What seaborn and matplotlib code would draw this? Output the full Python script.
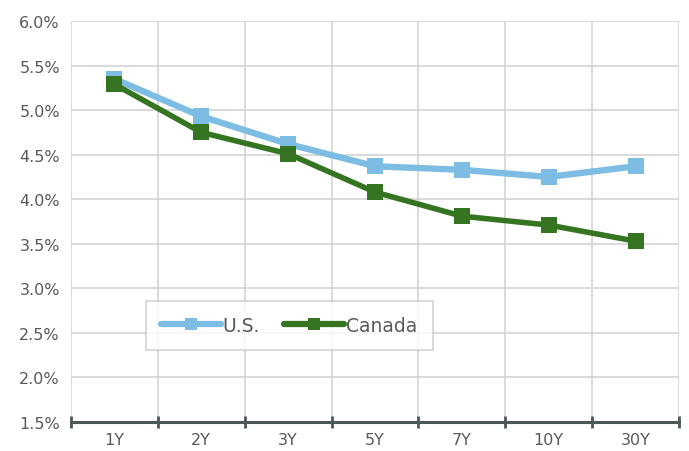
import matplotlib
matplotlib.use("Agg")
import matplotlib.pyplot as plt
from matplotlib.ticker import FixedLocator, FuncFormatter
import seaborn as sns
import pandas as pd

# Yield curve points by tenor
tenors = ["1Y", "2Y", "3Y", "5Y", "7Y", "10Y", "30Y"]
us_yields = [5.35, 4.93, 4.62, 4.37, 4.33, 4.25, 4.37]
canada_yields = [5.29, 4.75, 4.51, 4.08, 3.81, 3.71, 3.53]
series_names = ["U.S.", "Canada"]
series_colors = ["#7dbde3", "#357521"]

df = pd.DataFrame({
    "pos": list(range(len(tenors))) * 2,
    "tenor": tenors * 2,
    "yield": us_yields + canada_yields,
    "series": [series_names[0]] * len(tenors) + [series_names[1]] * len(tenors),
})

sns.set_style("white")
plt.rcParams["font.family"] = ["DejaVu Sans"]
text_color = "#595959"

fig = plt.figure(figsize=(6.89, 4.52), dpi=100)
ax = fig.add_axes([71 / 689, 1 - 423 / 452, (679 - 71) / 689, (423 - 22) / 452])

sns.lineplot(
    data=df, x="pos", y="yield", hue="series", style="series",
    hue_order=series_names, palette=series_colors,
    markers=["s", "s"], dashes=False, linewidth=4.2, markersize=12,
    markeredgewidth=0, ax=ax, legend=False,
)
for line, lw in zip(ax.lines, [4.6, 4.0]):
    line.set_linewidth(lw)

ax.set_xlim(-0.5, len(tenors) - 0.5)
ax.set_ylim(1.5, 6.0)

# category labels at centers, tick marks and grid at boundaries
ax.xaxis.set_major_locator(FixedLocator(range(len(tenors))))
ax.set_xticklabels(tenors)
ax.xaxis.set_minor_locator(FixedLocator([i - 0.5 for i in range(len(tenors) + 1)]))
ax.tick_params(axis="x", which="major", bottom=False, length=0, pad=7,
               labelsize=11.5, labelcolor=text_color)
ax.tick_params(axis="x", which="minor", bottom=True, length=8, width=2,
               direction="inout", color="#4a5858")

ax.yaxis.set_major_locator(FixedLocator([1.5 + 0.5 * i for i in range(10)]))
ax.yaxis.set_major_formatter(FuncFormatter(lambda v, p: f"{v:.1f}%"))
ax.tick_params(axis="y", which="major", length=0, pad=8, labelsize=11.5, labelcolor=text_color)

ax.grid(True, axis="y", which="major", color="#d4d4d4", linewidth=1.2)
ax.grid(True, axis="x", which="minor", color="#d4d4d4", linewidth=1.2)
ax.grid(False, axis="x", which="major")
ax.set_axisbelow(True)

for side in ["top", "right", "left"]:
    ax.spines[side].set_visible(False)
ax.spines["bottom"].set_color("#4a5858")
ax.spines["bottom"].set_linewidth(2.2)
ax.set_xlabel("")
ax.set_ylabel("")

handles = [
    plt.Line2D([], [], color=c, linewidth=4.5, marker="s", markersize=9, markeredgewidth=0)
    for c in series_colors
]
leg = ax.legend(
    handles, series_names, loc="upper left", bbox_to_anchor=(0.123, 0.302),
    borderaxespad=0, ncol=2, frameon=True, fancybox=False, shadow=False,
    handlelength=3.2, handletextpad=0.1, columnspacing=1.3, borderpad=0.8,
    fontsize=13.5, labelcolor=text_color,
)
leg.get_frame().set_edgecolor("#c8c8c8")
leg.get_frame().set_linewidth(1.2)

fig.savefig("out.png", dpi=100)
